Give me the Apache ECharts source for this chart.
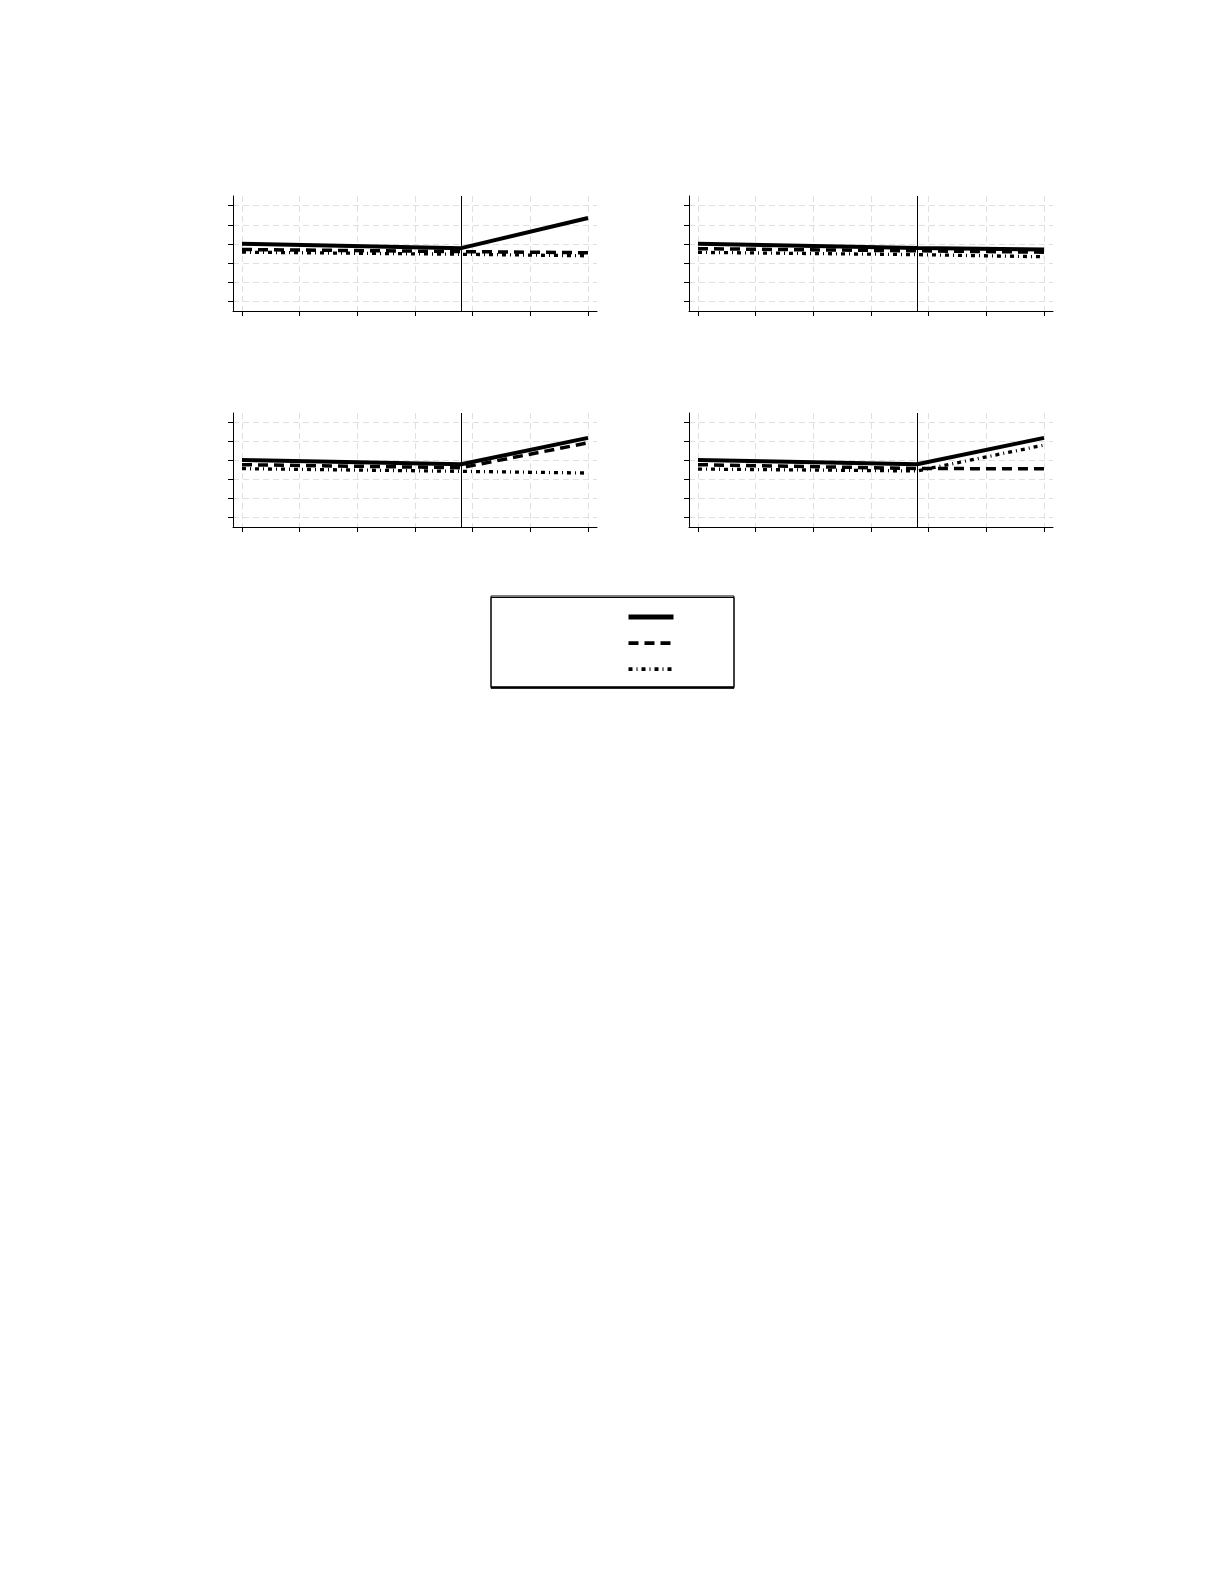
<!DOCTYPE html>
<html>
<head>
<meta charset="utf-8">
<script src="https://cdn.jsdelivr.net/npm/echarts@6/dist/echarts.min.js"></script>
<style>
  html, body { margin: 0; padding: 0; background: #fff; }
  #main { width: 1225px; height: 1585px; }
</style>
</head>
<body>
<div id="main"></div>
<script>
// x positions of the points (the break is at 19)
var years = [0, 19, 30];
var xTicks = [0, 5, 10, 15, 20, 25, 30];
var yTicks = [0, 1, 2, 3, 4, 5];
var breakYear = 19;

// top left
var tlSolid = [3.01, 2.78, 4.35];
var tlDash = [2.71, 2.60, 2.54];
var tlDot = [2.57, 2.46, 2.38];
// top right
var trSolid = [3.01, 2.79, 2.71];
var trDash = [2.75, 2.64, 2.57];
var trDot = [2.56, 2.44, 2.33];
// bottom left
var blSolid = [3.02, 2.80, 4.19];
var blDash = [2.78, 2.62, 3.93];
var blDot = [2.57, 2.43, 2.34];
// bottom right
var brSolid = [3.02, 2.80, 4.19];
var brDash = [2.78, 2.58, 2.56];
var brDot = [2.55, 2.45, 3.81];

var panels = [
  [tlSolid, tlDash, tlDot],
  [trSolid, trDash, trDot],
  [blSolid, blDash, blDot],
  [brSolid, brDash, brDot]
];
var names = ['A', 'B', 'C'];

var gridPos = [
  { left: 233, top: 196, width: 364, height: 115 },
  { left: 689, top: 196, width: 364, height: 115 },
  { left: 233, top: 413, width: 364, height: 114 },
  { left: 689, top: 413, width: 364, height: 114 }
];

var lineStyles = [
  { color: '#000', width: 4, type: 'solid' },
  { color: '#000', width: 3.5, type: [10, 6] },
  { color: '#000', width: 3.3, type: [4, 4, 1, 4] }
];

var gridSplit = { show: true, lineStyle: { color: '#e0e0e0', width: 1, type: [6, 4] } };

function pairs(vals) {
  return years.map(function (x, i) { return [x, vals[i]]; });
}

var xAxes = [], yAxes = [], series = [];
gridPos.forEach(function (g, gi) {
  xAxes.push({
    type: 'value', gridIndex: gi, min: -0.78, max: 30.78,
    axisLine: { onZero: false, lineStyle: { color: '#000', width: 1 } },
    axisTick: { show: true, length: 5, customValues: xTicks, lineStyle: { color: '#000' } },
    axisLabel: { show: false, customValues: xTicks },
    splitLine: gridSplit
  });
  yAxes.push({
    type: 'value', gridIndex: gi, min: -0.5, max: 5.5,
    axisLine: { show: true, onZero: false, lineStyle: { color: '#000', width: 1 } },
    axisTick: { show: true, length: 5, customValues: yTicks, lineStyle: { color: '#000' } },
    axisLabel: { show: false, customValues: yTicks },
    splitLine: gridSplit
  });
  panels[gi].forEach(function (vals, si) {
    var s = {
      name: names[si],
      type: 'line',
      xAxisIndex: gi,
      yAxisIndex: gi,
      symbol: 'none',
      color: '#000',
      data: pairs(vals),
      lineStyle: lineStyles[si],
      z: 3 - si
    };
    if (si === 0) {
      s.markLine = {
        silent: true,
        symbol: ['none', 'none'],
        label: { show: false },
        lineStyle: { color: '#000', width: 1, type: 'solid' },
        data: [{ xAxis: breakYear }]
      };
    }
    series.push(s);
  });
});

// legend keys: line only, no marker dot
var noDot = { opacity: 0 };

var myChart = echarts.init(document.getElementById('main'));
myChart.setOption({
  animation: false,
  backgroundColor: '#fff',
  grid: gridPos,
  xAxis: xAxes,
  yAxis: yAxes,
  legend: {
    orient: 'vertical',
    left: 491,
    top: 596,
    padding: [14, 58, 12, 135],
    itemWidth: 45,
    itemHeight: 14,
    itemGap: 13.5,
    borderColor: '#000',
    borderWidth: 1,
    backgroundColor: '#fff',
    shadowColor: '#000',
    shadowOffsetY: 1.5,
    shadowBlur: 0,
    selectedMode: false,
    formatter: function () { return ''; },
    data: [
      { name: 'A', itemStyle: noDot, lineStyle: { width: 5 } },
      { name: 'B', itemStyle: noDot, lineStyle: { width: 3.7 } },
      { name: 'C', itemStyle: noDot, lineStyle: { width: 3.7 } }
    ]
  },
  series: series
});
</script>
</body>
</html>
